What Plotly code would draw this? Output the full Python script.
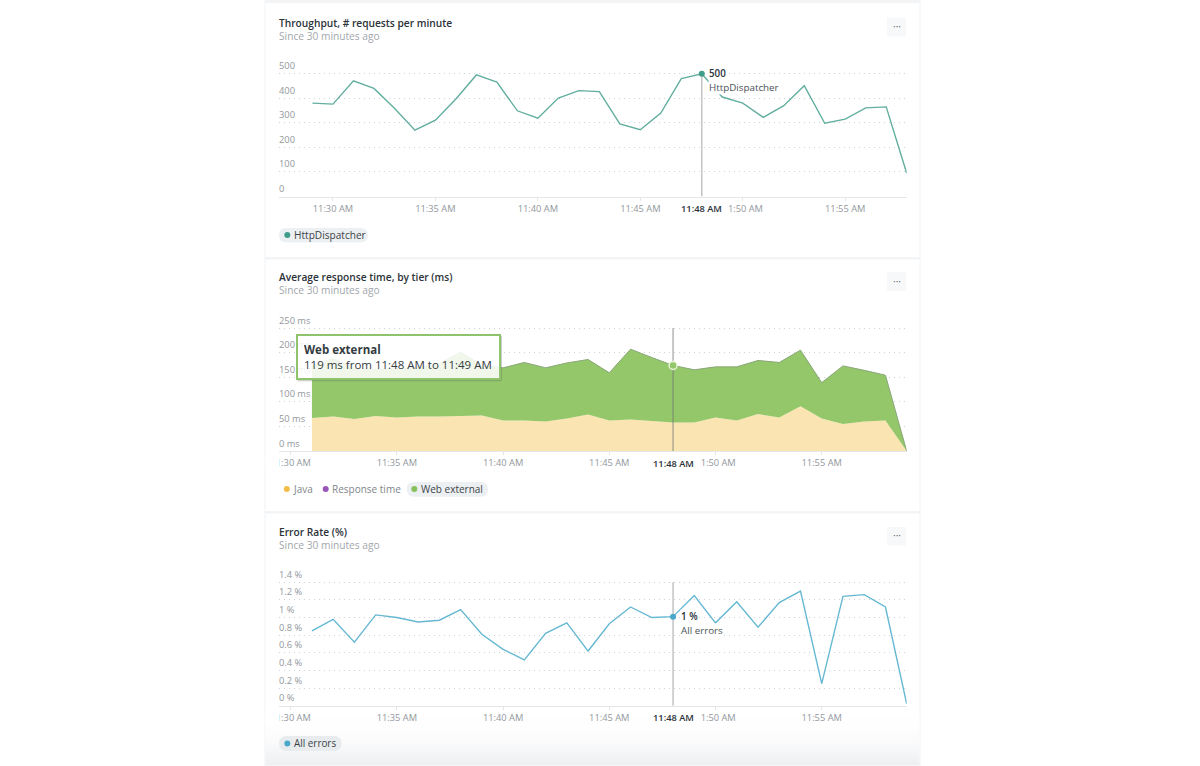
from datetime import datetime, timedelta
import plotly.graph_objects as go

W, H = 1200, 766
FONT = "Open Sans"

BASE = datetime(2024, 1, 1, 11, 0)
def clock(minute):
    return (BASE + timedelta(minutes=minute)).strftime("%Y-%m-%d %H:%M:%S")

# ---------- data ----------
throughput_minutes = list(range(29, 59))
throughput = [380, 376, 471, 440, 359, 270, 311, 397, 495, 466, 349, 319, 401, 431, 427,
              296, 272, 340, 480, 500, 405, 380, 322, 370, 451, 298, 315, 361, 365, 95]

tier_minutes = list(range(31, 60))
java = [67, 70, 65, 71, 68, 70, 70, 71, 72, 62, 62, 60, 66, 74, 62,
        64, 61, 58, 58, 68, 62, 75, 68, 91, 66, 55, 60, 62, 0]
web_external = [106, 118, 103, 95, 99, 100, 108, 130, 103, 107, 118, 109, 113, 112, 97,
                143, 129, 116, 107, 103, 109, 109, 112, 114, 73, 118, 104, 92, 0]

error_rate = [0.85, 0.98, 0.72, 1.03, 1.00, 0.95, 0.97, 1.09, 0.81, 0.64, 0.52, 0.82, 0.94, 0.62, 0.93,
              1.12, 1.00, 1.01, 1.25, 0.94, 1.18, 0.89, 1.17, 1.30, 0.25, 1.24, 1.26, 1.12, 0.02]

tick_minutes = [30, 35, 40, 45, 50, 55]
tick_labels = ["11:30 AM", "11:35 AM", "11:40 AM", "11:45 AM", "11:50 AM", "11:55 AM"]
cursor_minute = 48
cursor_label = "11:48 AM"

y1_ticks = [0, 100, 200, 300, 400, 500]
y1_labels = ["0", "100", "200", "300", "400", "500"]
y2_ticks = [0, 50, 100, 150, 200, 250]
y2_labels = ["0 ms", "50 ms", "100 ms", "150 ms", "200 ms", "250 ms"]
y3_ticks = [0, 0.2, 0.4, 0.6, 0.8, 1.0, 1.2, 1.4]
y3_labels = ["0 %", "0.2 %", "0.4 %", "0.6 %", "0.8 %", "1 %", "1.2 %", "1.4 %"]

# ---------- pixel helpers ----------
def px(x): return x / W
def py(y): return 1 - y / H

PLOT_L, PLOT_R = 279, 906.7
C_GREY = "#92989d"
C_DARK = "#2b3238"
C_TEAL, C_TEAL_DOT = "#62ae9f", "#3f9d8b"
C_BLUE, C_BLUE_DOT = "#66b8d2", "#4aa8cb"
C_GREEN, C_JAVA = "#94c769", "#f9e4b2"

shapes, ann = [], []

def rect(x0, y0, x1, y1, fill, layer="below", line=None, lw=0):
    shapes.append(dict(type="rect", xref="paper", yref="paper", x0=px(x0), x1=px(x1), y0=py(y0), y1=py(y1),
                       fillcolor=fill, layer=layer, line=dict(color=line or fill, width=lw)))

def pill(x0, y0, x1, y1, fill):
    r = (y1 - y0) / 2
    path = (f"M {px(x0+r)} {py(y0)} L {px(x1-r)} {py(y0)} "
            f"Q {px(x1)} {py(y0)} {px(x1)} {py(y0+r)} Q {px(x1)} {py(y1)} {px(x1-r)} {py(y1)} "
            f"L {px(x0+r)} {py(y1)} Q {px(x0)} {py(y1)} {px(x0)} {py(y0+r)} Q {px(x0)} {py(y0)} {px(x0+r)} {py(y0)} Z")
    shapes.append(dict(type="path", xref="paper", yref="paper", path=path, fillcolor=fill, layer="below",
                       line=dict(width=0)))

def dot(cx, cy, r, fill):
    shapes.append(dict(type="circle", xref="paper", yref="paper", x0=px(cx - r), x1=px(cx + r),
                       y0=py(cy - r), y1=py(cy + r), fillcolor=fill, layer="below", line=dict(width=0)))

def text(x, y, s, size=10, color=C_GREY, weight=400, anchor="left", **kw):
    ann.append(dict(xref="paper", yref="paper", x=px(x), y=py(y), text=s, showarrow=False,
                    xanchor=anchor, yanchor="middle", align=anchor,
                    font=dict(family=FONT, size=size, color=color, weight=weight),
                    borderpad=0, **kw))

# ---------- page furniture ----------
rect(265, 0, 920, 766, "#ffffff", line="#f1f3f5", lw=1)
rect(265, 0, 920, 3, "#f2f4f6")
rect(265, 257, 920, 259.5, "#f2f4f6")
rect(265, 511, 920, 513.5, "#f2f4f6")
# footer fade at the bottom of the last card
STEPS = 24
for i in range(STEPS):
    y0 = 716 + i * 49 / STEPS
    t = (i / (STEPS - 1)) ** 2
    v = (int(255 - 17 * t), int(255 - 15 * t), int(255 - 13 * t))
    rect(265.5, y0, 919.5, y0 + 49 / STEPS + 0.3, "rgb(%d,%d,%d)" % v)

# card headers
titles = [
    (23, 35.7, "Throughput, # requests per minute"),
    (277, 290.2, "Average response time, by tier (ms)"),
    (531.5, 544.7, "Error Rate (%)"),
]
for ty, sy, s in titles:
    text(277.7, ty, s, size=10.2, color=C_DARK, weight=600)
    text(277.7, sy, "Since 30 minutes ago", size=10.2, color="#a2a7ab")

for y0, y1 in [(17.5, 36.5), (272, 291), (527, 545.5)]:
    rect(887, y0, 906, y1, "#f7f8fa")
    text(896.5, (y0 + y1) / 2 - 1, "···", size=10, color="#60666b", anchor="center")

# legends
pill(279, 228, 368, 242.5, "#edf0f2")
dot(287.3, 235, 3, C_TEAL_DOT)
text(292.5, 234.5, "HttpDispatcher", size=10.1, color="#3c4349")

dot(286.8, 489, 3, "#f2bd4a")
text(291.7, 488.5, "Java", size=10, color="#7f868b")
dot(325.7, 489, 3, "#9a55b8")
text(330.7, 488.5, "Response time", size=10, color="#7f868b")
pill(406.7, 482, 488, 496.7, "#edf0f2")
dot(414.3, 489, 3, "#86bf5b")
text(419.7, 488.5, "Web external", size=10, color="#3c4349")

pill(279, 736, 341.7, 751, "#e9ecee")
dot(287.3, 743.5, 3, C_BLUE_DOT)
text(292.5, 743, "All errors", size=9.9, color="#3c4349")

# ---------- axes ----------
def xaxis(anchor, last_minute, px_per_min):
    first = last_minute - (PLOT_R - PLOT_L) / px_per_min
    return dict(domain=[px(PLOT_L), px(PLOT_R)], anchor=anchor, type="date",
                range=[clock(first), clock(last_minute)],
                tickmode="array", tickvals=[clock(m) for m in tick_minutes], ticktext=tick_labels,
                showgrid=False, zeroline=False, showline=True, linecolor="#e4e7ea", linewidth=1,
                ticks="outside", ticklen=3, tickcolor="#e4e7ea", tickangle=0,
                tickfont=dict(family=FONT, size=9.3, color=C_GREY), ticklabelstandoff=0)

def yaxis(anchor, top_px, zero_px, unit_px, ticks):
    return dict(domain=[py(zero_px), py(top_px)], anchor=anchor,
                range=[0, (zero_px - top_px) / unit_px],
                tickmode="array", tickvals=ticks, showticklabels=False, ticks="",
                showgrid=True, griddash="1px,4px", gridcolor="#cfd3d6", gridwidth=1,
                zeroline=False, showline=False)

layout_axes = dict(
    xaxis=xaxis("y", 58, 20.5),
    yaxis=yaxis("x", 60, 196.5, 122.8 / 500, y1_ticks),
    xaxis2=xaxis("y2", 59, 21.25),
    yaxis2=yaxis("x2", 320, 451, 123 / 250, y2_ticks),
    xaxis3=xaxis("y3", 59, 21.25),
    yaxis3=yaxis("x3", 575, 705.7, 123.4 / 1.4, y3_ticks),
)

# y tick labels sit just above their gridlines, left-aligned inside the plot
for ya, vals, labs in [("y", y1_ticks, y1_labels), ("y2", y2_ticks, y2_labels), ("y3", y3_ticks, y3_labels)]:
    for v, lab in zip(vals, labs):
        ann.append(dict(xref="paper", yref=ya, x=px(PLOT_L - 1), y=v, yshift=8, text=lab, showarrow=False,
                        xanchor="left", yanchor="middle", borderpad=0,
                        font=dict(family=FONT, size=9.3, color=C_GREY)))

# ---------- traces ----------
fig = go.Figure()
tc = clock(cursor_minute)

fig.add_trace(go.Scatter(x=[clock(m) for m in throughput_minutes], y=throughput, mode="lines",
                         line=dict(color=C_TEAL, width=1.4), xaxis="x", yaxis="y", name="HttpDispatcher"))
fig.add_trace(go.Scatter(x=[clock(m) for m in tier_minutes], y=java, mode="lines", stackgroup="tier",
                         line=dict(width=0), fillcolor=C_JAVA, xaxis="x2", yaxis="y2", name="Java"))
fig.add_trace(go.Scatter(x=[clock(m) for m in tier_minutes], y=web_external, mode="lines", stackgroup="tier",
                         line=dict(color="#8aa67a", width=1), fillcolor=C_GREEN, xaxis="x2", yaxis="y2",
                         name="Web external"))
fig.add_trace(go.Scatter(x=[clock(m) for m in tier_minutes], y=error_rate, mode="lines",
                         line=dict(color=C_BLUE, width=1.4), xaxis="x3", yaxis="y3", name="All errors"))

# hover cursor in each chart
cur_i1 = throughput_minutes.index(cursor_minute)
cur_i2 = tier_minutes.index(cursor_minute)
cursors = [
    ("x", "y", 500, "rgba(190,190,190,0.9)", 1.5),
    ("x2", "y2", 250, "rgba(110,115,115,0.65)", 1.2),
    ("x3", "y3", 1.4, "rgba(170,172,174,0.9)", 1.2),
]
for xa, ya, top, col, w in cursors:
    fig.add_trace(go.Scatter(x=[tc, tc], y=[0, top], mode="lines", line=dict(color=col, width=w),
                             xaxis=xa, yaxis=ya, showlegend=False))
fig.add_trace(go.Scatter(x=[tc], y=[throughput[cur_i1]], mode="markers", xaxis="x", yaxis="y",
                         marker=dict(size=6, color=C_TEAL_DOT), cliponaxis=False))
fig.add_trace(go.Scatter(x=[tc], y=[java[cur_i2] + web_external[cur_i2]], mode="markers", xaxis="x2", yaxis="y2",
                         marker=dict(size=8, color="#94c769", line=dict(color="#e9f4dd", width=1.5))))
fig.add_trace(go.Scatter(x=[tc], y=[error_rate[cur_i2]], mode="markers", xaxis="x3", yaxis="y3",
                         marker=dict(size=6, color=C_BLUE_DOT)))

# cursor labels on the axes; a white strip beneath each hides the start of the 11:50 tick label
for xa, ay, rate in [("x", 208.5, 20.5), ("x2", 463, 21.25), ("x3", 717.5, 21.25)]:
    shapes.append(dict(type="rect", xref=xa, yref="paper",
                       x0=clock(cursor_minute), x1=clock(cursor_minute + 27 / rate),
                       y0=py(ay - 7), y1=py(ay + 7), fillcolor="#ffffff", layer="above", line=dict(width=0)))
    ann.append(dict(xref=xa, yref="paper", x=tc, y=py(ay), text=cursor_label, showarrow=False,
                    xanchor="center", yanchor="middle", bgcolor="#ffffff", borderpad=0,
                    font=dict(family=FONT, size=9.3, color=C_DARK, weight=600)))

# value labels beside the cursors
def side_label(xa, ya, yval, line1, line2, dy2):
    ann.append(dict(xref=xa, yref=ya, x=tc, y=yval, xshift=6.5, yshift=0, text=line1, showarrow=False,
                    xanchor="left", yanchor="middle", bgcolor="#ffffff", borderpad=0,
                    font=dict(family=FONT, size=9.8, color=C_DARK, weight=600)))
    ann.append(dict(xref=xa, yref=ya, x=tc, y=yval, xshift=6.5, yshift=-dy2, text=line2, showarrow=False,
                    xanchor="left", yanchor="middle", bgcolor="#ffffff", borderpad=0,
                    font=dict(family=FONT, size=9.8, color="#4b5258")))

side_label("x", "y", throughput[cur_i1], "500", "HttpDispatcher", 13.5)
side_label("x3", "y3", error_rate[cur_i2], "1 %", "All errors", 13.5)

# mask that clips the first tick label at the plot's left edge
rect(265.5, 455, PLOT_L, 470, "#ffffff", layer="above")
rect(265.5, 710, PLOT_L, 725, "#ffffff", layer="above")

# tooltip: soft shadow strips, then a translucent box drawn over the y labels
rect(500.5, 336, 502, 381, "rgba(90,100,90,0.3)", layer="above")
rect(297.5, 379.7, 500.5, 381.2, "rgba(90,100,90,0.3)", layer="above")
ann.append(dict(xref="paper", yref="paper", x=px(295.5), y=py(356.7), xanchor="left", yanchor="middle",
                width=189, height=30, align="left", valign="middle",
                text="<b>Web external</b><br>119 ms from 11:48 AM to 11:49 AM", showarrow=False,
                bgcolor="rgba(255,255,255,0.87)", bordercolor="#8fc36c", borderwidth=2, borderpad=6,
                font=dict(family=FONT, size=11.5, color="#343b41")))

fig.update_layout(width=W, height=H, margin=dict(l=0, r=0, t=0, b=0, autoexpand=False),
                  paper_bgcolor="#ffffff", plot_bgcolor="rgba(0,0,0,0)", showlegend=False,
                  font=dict(family=FONT), shapes=shapes, annotations=ann, hovermode=False, **layout_axes)

fig.write_html("out.html", config=dict(displayModeBar=False),
               post_script="document.body.style.margin='0';document.documentElement.style.overflow='hidden';")
